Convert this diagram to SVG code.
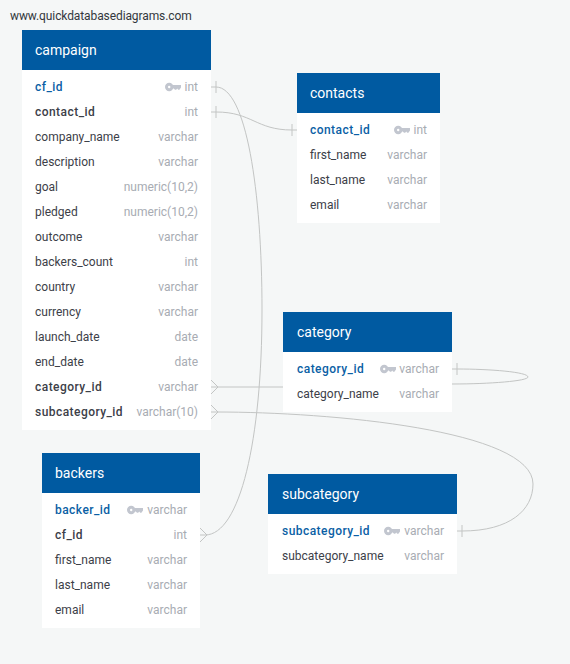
<svg xmlns="http://www.w3.org/2000/svg" width="570" height="664" viewBox="0 0 570 664">
<style>
text{font-family:Roboto,"Liberation Sans",sans-serif;font-size:12px;dominant-baseline:central}
.bd{fill:#fff}.hd{fill:#005aa1}
.t{fill:#fff;font-size:14px}.pk{fill:#0b5fa5;font-weight:500;letter-spacing:.45px}.fk{fill:#3c4048;font-weight:500;letter-spacing:.45px}
.c{fill:#3c4048}.ty{fill:#a8acb3;text-anchor:end}
.l{fill:none;stroke:#c3c5c4;stroke-width:1}
</style>
<defs>
<g id="key"><circle cx="4.2" cy="0" r="2.7" fill="none" stroke="#c2c6cf" stroke-width="3"/><path d="M7 -2H16V.6L14.4 2.8H13.2L12.2 1.4L11.2 2.8H10L8.8 1.6H7Z" fill="#c2c6cf"/></g>
</defs>
<rect width="570" height="664" fill="#f5f7f7"/>
<text x="10" y="16" fill="#33373d" letter-spacing="-.1">www.quickdatabasediagrams.com</text>
<g id="connectors" class="l">
<path class="l" d="M211 87H216C246 87 262 190 262 310C262 440 240 535 205 535H200"/>
<path class="l" d="M211 112H216C252 112 256 130 292 130H297"/>
<path class="l" d="M452 369H457C490 369 528 372 528 377C528 381 490 384 452 384"/>
<path class="l" d="M211 387H283"/>
<path class="l" d="M211 412H216C330 412 533 430 533 484C533 510 510 531 462 531H457"/>
<path class="l" d="M216 81V93M216 106V118M292 124V136M457 363V375M462 525V537"/>
<path class="l" d="M211 380L218 387L211 394M211 405L218 412L211 419M200 528L207 535L200 542" />
</g>
<g id="campaign"><rect class="bd" x="22" y="70" width="189" height="360"/><rect class="hd" x="22" y="30" width="189" height="40"/><text class="t" x="35" y="50">campaign</text>
<text class="pk" x="35" y="87">cf_id</text><use href="#key" x="165" y="87"/><text class="ty" x="198" y="87">int</text>
<text class="fk" x="35" y="112">contact_id</text><text class="ty" x="198" y="112">int</text>
<text class="c" x="35" y="137">company_name</text><text class="ty" x="198" y="137">varchar</text>
<text class="c" x="35" y="162">description</text><text class="ty" x="198" y="162">varchar</text>
<text class="c" x="35" y="187">goal</text><text class="ty" x="198" y="187">numeric(10,2)</text>
<text class="c" x="35" y="212">pledged</text><text class="ty" x="198" y="212">numeric(10,2)</text>
<text class="c" x="35" y="237">outcome</text><text class="ty" x="198" y="237">varchar</text>
<text class="c" x="35" y="262">backers_count</text><text class="ty" x="198" y="262">int</text>
<text class="c" x="35" y="287">country</text><text class="ty" x="198" y="287">varchar</text>
<text class="c" x="35" y="312">currency</text><text class="ty" x="198" y="312">varchar</text>
<text class="c" x="35" y="337">launch_date</text><text class="ty" x="198" y="337">date</text>
<text class="c" x="35" y="362">end_date</text><text class="ty" x="198" y="362">date</text>
<text class="fk" x="35" y="387">category_id</text><text class="ty" x="198" y="387">varchar</text>
<text class="fk" x="35" y="412">subcategory_id</text><text class="ty" x="198" y="412">varchar(10)</text></g>
<g id="contacts"><rect class="bd" x="297" y="113" width="143" height="110"/><rect class="hd" x="297" y="73" width="143" height="40"/><text class="t" x="310" y="93">contacts</text>
<text class="pk" x="310" y="130">contact_id</text><use href="#key" x="394" y="130"/><text class="ty" x="427" y="130">int</text>
<text class="c" x="310" y="155">first_name</text><text class="ty" x="427" y="155">varchar</text>
<text class="c" x="310" y="180">last_name</text><text class="ty" x="427" y="180">varchar</text>
<text class="c" x="310" y="205">email</text><text class="ty" x="427" y="205">varchar</text></g>
<g id="category"><rect class="bd" x="283" y="352" width="169" height="60"/><rect class="hd" x="283" y="312" width="169" height="40"/><text class="t" x="297" y="332">category</text>
<text class="pk" x="297" y="369">category_id</text><use href="#key" x="380" y="369"/><text class="ty" x="439" y="369">varchar</text>
<text class="c" x="297" y="394">category_name</text><text class="ty" x="439" y="394">varchar</text></g>
<g id="backers"><rect class="bd" x="42" y="493" width="158" height="135"/><rect class="hd" x="42" y="453" width="158" height="40"/><text class="t" x="55" y="473">backers</text>
<text class="pk" x="55" y="510">backer_id</text><use href="#key" x="127" y="510"/><text class="ty" x="187" y="510">varchar</text>
<text class="fk" x="55" y="535">cf_id</text><text class="ty" x="187" y="535">int</text>
<text class="c" x="55" y="560">first_name</text><text class="ty" x="187" y="560">varchar</text>
<text class="c" x="55" y="585">last_name</text><text class="ty" x="187" y="585">varchar</text>
<text class="c" x="55" y="610">email</text><text class="ty" x="187" y="610">varchar</text></g>
<g id="subcategory"><rect class="bd" x="268" y="514" width="189" height="60"/><rect class="hd" x="268" y="474" width="189" height="40"/><text class="t" x="282" y="494">subcategory</text>
<text class="pk" x="282" y="531">subcategory_id</text><use href="#key" x="384" y="531"/><text class="ty" x="444" y="531">varchar</text>
<text class="c" x="282" y="556">subcategory_name</text><text class="ty" x="444" y="556">varchar</text></g>
</svg>
